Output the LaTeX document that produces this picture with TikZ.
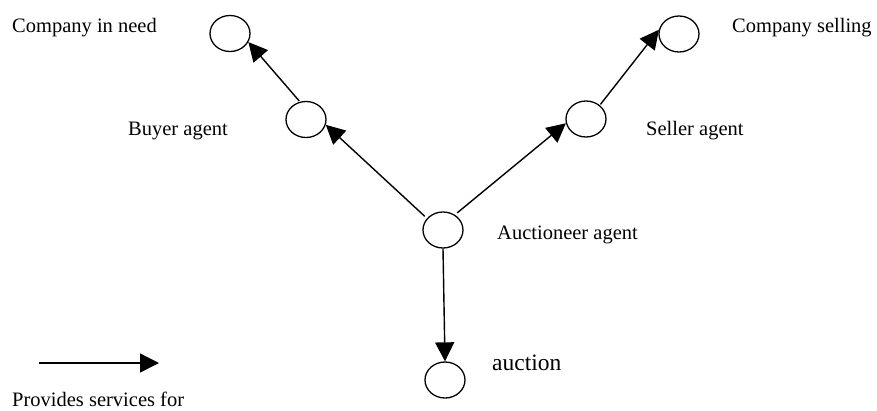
\documentclass[tikz,border=0pt]{standalone}
\usepackage{fontspec}
\setmainfont{Liberation Serif}
\usetikzlibrary{arrows.meta,shapes.geometric}

\tikzset{
  agent/.style={ellipse, draw, line width=1.3pt, minimum width=40pt,
    minimum height=36pt, inner sep=0pt},
  lbl/.style={anchor=base west, inner sep=0pt,
    font=\fontsize{20.5}{24}\selectfont},
  biglbl/.style={anchor=base west, inner sep=0pt,
    font=\fontsize{23.5}{28}\selectfont},
  serves/.style={line width=1.4pt,
    -{Triangle[length=19pt,width=19pt]}},
}

\begin{document}
\begin{tikzpicture}[x=1pt,y=-1pt]
  \useasboundingbox (0,0) rectangle (877,410);

  % agents
  \node[agent] (need)    at (230,33.5) {};
  \node[agent] (sell)    at (679,34)   {};
  \node[agent] (buyer)   at (306,119.5){};
  \node[agent] (seller)  at (586,119)  {};
  \node[agent] (auct)    at (443,230)  {};
  \node[agent] (auction) at (445,380)  {};

  % labels
  \node[lbl] (needlbl)    at (12,32)   {Company in need};
  \node[lbl] (selllbl)    at (732,32)  {Company selling};
  \node[lbl] (buyerlbl)   at (128,135) {Buyer agent};
  \node[lbl] (sellerlbl)  at (646,135) {Seller agent};
  \node[lbl] (auctlbl)    at (497,239) {Auctioneer agent};
  \node[biglbl] (auctionlbl) at (492,370) {auction};

  % service relations
  \draw[serves, shorten <=3pt] (auct.144)  -- (buyer.-15);
  \draw[serves, shorten <=1pt] (buyer.109) -- (need.-25);
  \draw[serves, shorten <=3pt] (auct.52)   -- (seller.192);
  \draw[serves, shorten <=1pt] (seller.45) -- (sell.168);
  \draw[serves] (auct.south) -- (auction.north);

  % legend
  \coordinate (legA) at (39,363);
  \coordinate (legB) at (159,363);
  \draw[serves] (legA) -- (legB);
  \node[lbl] (leglbl) at (12,406) {Provides services for};
\end{tikzpicture}
\end{document}
